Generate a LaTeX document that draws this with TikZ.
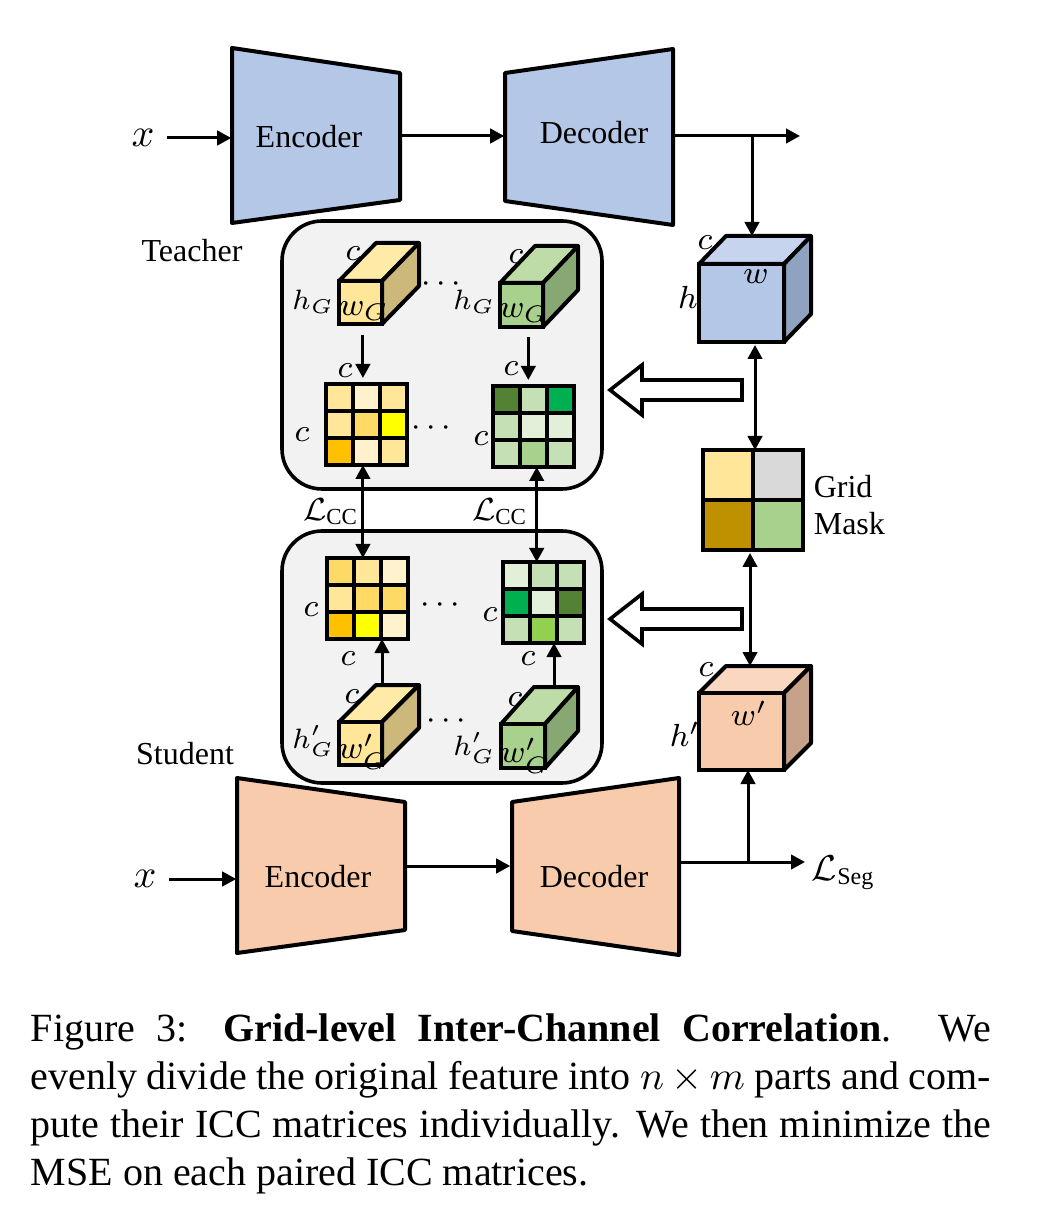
\documentclass[tikz,border=0pt]{standalone}
\usepackage{amsmath}
\usepackage{fontspec}
\setmainfont{Liberation Serif}
\usetikzlibrary{arrows.meta,positioning}

\definecolor{tblue}{HTML}{B4C7E7}
\definecolor{sorange}{HTML}{F8CBAD}
\definecolor{boxgray}{HTML}{F2F2F2}
\definecolor{bluefront}{HTML}{B4C7E7}
\definecolor{bluetop}{HTML}{C6D4EE}
\definecolor{blueside}{HTML}{8FA2BF}
\definecolor{orangefront}{HTML}{F8CBAD}
\definecolor{orangetop}{HTML}{F9D7C0}
\definecolor{orangeside}{HTML}{C6A28A}
\definecolor{yelfront}{HTML}{FFE699}
\definecolor{yeltop}{HTML}{FFEAA8}
\definecolor{yelside}{HTML}{CCB87A}
\definecolor{grnfront}{HTML}{A9D18E}
\definecolor{grntop}{HTML}{BDDCA8}
\definecolor{grnside}{HTML}{87A872}
\definecolor{y1}{HTML}{FFF2CC}
\definecolor{y2}{HTML}{FFE699}
\definecolor{y3}{HTML}{FFD966}
\definecolor{y4}{HTML}{FFC000}
\definecolor{y5}{HTML}{FFFF00}
\definecolor{g1}{HTML}{E2F0D9}
\definecolor{g2}{HTML}{C5E0B4}
\definecolor{g3}{HTML}{A9D18E}
\definecolor{g4}{HTML}{92D050}
\definecolor{g5}{HTML}{00B050}
\definecolor{g6}{HTML}{548235}
\definecolor{mgold}{HTML}{BF9000}
\definecolor{mgray}{HTML}{D9D9D9}

\tikzset{
  net/.style={draw, line width=1pt, line join=round},
  cubefront/.style={draw, line width=1pt, inner sep=0pt, outer sep=0pt},
  netbox/.style={inner sep=0pt, minimum width=42pt},
  kdbox/.style={draw, line width=0.9pt, fill=boxgray, rounded corners=10pt, inner sep=0pt},
  arr/.style={-{Triangle[length=3.5pt,width=3.6pt]}, line width=0.75pt},
  darr/.style={{Triangle[length=3.5pt,width=3.6pt]}-{Triangle[length=3.5pt,width=3.6pt]}, line width=0.75pt},
  hollow/.style={draw, line width=0.9pt, fill=white, line join=miter},
  lab/.style={font=\fontsize{8.2}{9}\selectfont, inner sep=0pt},
  hlab/.style={font=\fontsize{7.4}{8}\selectfont, inner sep=0pt, anchor=east},
  txt/.style={font=\fontsize{8}{9.3}\selectfont, inner sep=0pt},
}

% cube: name, x, y (front top-left), w, h, depth x, depth y, colour
\newcommand{\featcube}[8]{%
  \filldraw[net, fill=#8top] (#2,#3) -- ++(#6,-#7) -- ++(#4,0) -- ++(-#6,#7) -- cycle;
  \filldraw[net, fill=#8side] ({#2+#4},#3) -- ++(#6,-#7) -- ++(0,#5) -- ++(-#6,#7) -- cycle;
  \node[cubefront, fill=#8front, minimum width={#4*0.25pt}, minimum height={#5*0.25pt}] (#1) at ({#2+#4/2},{#3+#5/2}) {};
  \coordinate (#1-back) at ({#2+#6+#4/2},{#3-#7});
}

% 3x3 ICC matrix: name, x, y (top-left), cell colours
\newcommand{\iccmat}[4]{%
  \foreach \cl [count=\i from 0] in {#4} {
    \pgfmathtruncatemacro\rr{\i/3}
    \pgfmathtruncatemacro\cc{mod(\i,3)}
    \fill[fill=\cl] ({#2+\cc*27},{#3+\rr*27}) rectangle ++(27,27);
  }
  \foreach \k in {1,2} {
    \draw[line width=1pt] ({#2+\k*27},#3) -- ++(0,81);
    \draw[line width=1pt] (#2,{#3+\k*27}) -- ++(81,0);
  }
  \node[cubefront, minimum size=20.25pt] (#1) at ({#2+40.5},{#3+40.5}) {};
}

\begin{document}
\begin{tikzpicture}[x=0.25pt, y=-0.25pt]
  \path[use as bounding box, fill=white] (0,0) rectangle (1062,1206);

  % teacher network
  \filldraw[net, fill=tblue] (232,48) -- (400,73) -- (400,200) -- (232,223) -- cycle;
  \node[netbox] (tenc) at (316,136) {};
  \node[txt] (tenct) at (309,137) {Encoder};
  \filldraw[net, fill=tblue] (505,73) -- (673,49) -- (673,225) -- (505,201) -- cycle;
  \node[netbox] (tdec) at (589,136) {};
  \node[txt] (tdect) at (594,133) {Decoder};
  \node[lab, font=\fontsize{10}{11}\selectfont] (tx) at (143,138) {$x$};
  \coordinate (tout) at (800,136);
  \coordinate (tbr) at (752,136);
  \draw[arr] ([xshift=3pt]tx.east) -- (tx.east -| tenc.west);
  \draw[arr] (tenc.east) -- (tdec.west);
  \draw[arr] (tdec.east) -- (tout);
  \node[txt] (tlab) at (192,251) {Teacher};

  % teacher grids
  \node[kdbox, minimum width=80pt, minimum height=67pt] (tbox) at (442,355) {};
  \featcube{tcy}{339}{281}{43}{43}{37}{38}{yel}
  \featcube{tcg}{500}{283}{43}{44}{35}{37}{grn}
  \node[lab] (tcyc) at (353,254) {$c$};
  \node[hlab] (tcyh) at (335,302) {$h_G$};
  \node[lab] (tcyw) at (364,311) {$w_G$};
  \node[lab] (tcgc) at (516,257) {$c$};
  \node[hlab] (tcgh) at (496,302) {$h_G$};
  \node[lab] (tcgw) at (524,313) {$w_G$};
  \node[lab] (tdots1) at (444,284) {$\cdots$};
  \iccmat{tmy}{326}{384}{y2,y1,y2,y2,y3,y5,y4,y1,y2}
  \iccmat{tmg}{493}{386}{g6,g2,g5,g2,g1,g1,g2,g3,g2}
  \node[lab] (tmyc1) at (345,371) {$c$};
  \node[lab] (tmyc2) at (302,435) {$c$};
  \node[lab] (tmgc1) at (511,369) {$c$};
  \node[lab] (tmgc2) at (481,439) {$c$};
  \node[lab] (tdots2) at (434,428) {$\cdots$};
  \coordinate (tya) at ([xshift=0.6pt, yshift=-2.75pt]tcy.south);
  \coordinate (tga) at ([xshift=1.7pt, yshift=-2.5pt]tcg.south);
  \draw[arr, shorten >=1.5pt] (tya) -- (tya |- tmy.north);
  \draw[arr, shorten >=1.5pt] (tga) -- (tga |- tmg.north);

  % student grids
  \node[kdbox, minimum width=80pt, minimum height=63pt] (sbox) at (442,657) {};
  \iccmat{smy}{327}{558}{y3,y2,y1,y2,y3,y3,y4,y5,y1}
  \iccmat{smg}{503}{562}{g1,g2,g2,g5,g1,g6,g2,g4,g2}
  \node[lab] (smyc1) at (311,610) {$c$};
  \node[lab] (smyc2) at (348,659) {$c$};
  \node[lab] (smgc1) at (490,615) {$c$};
  \node[lab] (smgc2) at (528,659) {$c$};
  \node[lab] (sdots1) at (443,605) {$\cdots$};
  \featcube{scy}{339}{722}{43}{43}{37}{37}{yel}
  \featcube{scg}{501}{724}{44}{44}{33}{37}{grn}
  \node[lab] (scyc) at (352,697) {$c$};
  \node[hlab] (scyh) at (335,741) {$h'_G$};
  \node[lab] (scyw) at (363,752) {$w'_G$};
  \node[lab] (scgc) at (515,700) {$c$};
  \node[hlab] (scgh) at (496,748) {$h'_G$};
  \node[lab] (scgw) at (525,756) {$w'_G$};
  \node[lab] (sdots2) at (449,721) {$\cdots$};
  \coordinate (sya) at ([yshift=9.5pt]scy.north east);
  \coordinate (sga) at ([xshift=2.25pt, yshift=9.5pt]scg.north east);
  \draw[arr] (sya) -- (sya |- smy.south);
  \draw[arr] (sga) -- (sga |- smg.south);
  \node[txt] (slab) at (185,754) {Student};

  % inter-channel correlation
  \coordinate (lya) at ([xshift=-0.9pt]tmy.south);
  \coordinate (lga) at ([xshift=0.8pt]tmg.south);
  \draw[darr] (lya) -- (lya |- smy.north);
  \draw[darr] (lga) -- (lga |- smg.north);
  \node[lab] (lcc1) at (331,512) {$\mathcal{L}_{\mathrm{CC}}$};
  \node[lab] (lcc2) at (500,512) {$\mathcal{L}_{\mathrm{CC}}$};

  % feature maps and grid mask
  \featcube{tcb}{699}{264}{85}{78}{27}{28}{blue}
  \featcube{scb}{699}{693}{85}{77}{27}{27}{orange}
  \node[lab] (tcbc) at (705,243) {$c$};
  \node[lab] (tcbh) at (688,297) {$h$};
  \node[lab] (tcbw) at (756,277) {$w$};
  \node[lab] (scbc) at (706,670) {$c$};
  \node[lab] (scbh) at (685,734) {$h'$};
  \node[lab] (scbw) at (749,713) {$w'$};
  \draw[arr] (tbr) -- (tbr |- tcb-back);
  \foreach \cl/\cx/\cy in {y2/0/0, mgray/1/0, mgold/0/1, g3/1/1}
    \fill[fill=\cl] ({703+\cx*50},{450+\cy*50}) rectangle ++(50,50);
  \draw[line width=1pt] (753,450) -- (753,550) (703,500) -- (803,500);
  \node[cubefront, minimum size=25pt] (gm) at (753,500) {};
  \node[txt, anchor=west, align=left] (gmlab) at (813,505) {Grid\\Mask};
  \coordinate (m1) at ([xshift=0.5pt]gm.north);
  \coordinate (m2) at ([xshift=-0.75pt]gm.south);
  \draw[darr, shorten <=0.75pt] (m1 |- tcb.south) -- (m1);
  \draw[darr, shorten <=0.75pt] (m2) -- (m2 |- scb-back);
  \foreach \hy in {390,619}
    \draw[hollow] (742,{\hy-10}) -- (642,{\hy-10}) -- (642,{\hy-25}) -- (610,\hy)
      -- (642,{\hy+25}) -- (642,{\hy+10}) -- (742,{\hy+10}) -- cycle;

  % student network
  \filldraw[net, fill=sorange] (237,778) -- (405,802) -- (405,930) -- (237,953) -- cycle;
  \node[netbox] (senc) at (321,877) {};
  \node[txt] (senct) at (318,877) {Encoder};
  \filldraw[net, fill=sorange] (512,802) -- (679,778) -- (679,955) -- (512,931) -- cycle;
  \node[netbox] (sdec) at (595,877) {};
  \node[txt] (sdect) at (594,877) {Decoder};
  \node[lab, font=\fontsize{10}{11}\selectfont] (sx) at (145,879) {$x$};
  \coordinate (sout) at (805,862);
  \coordinate (sbr) at (748,862);
  \draw[arr] ([xshift=3pt]sx.east) -- (sx.east -| senc.west);
  \draw[arr] ([yshift=2.75pt]senc.east) -- ([yshift=2.75pt]senc.east -| sdec.west);
  \draw[arr] (sdec.east |- sout) -- (sout);
  \draw[arr] (sbr) -- (sbr |- scb.south);
  \node[lab, anchor=west, font=\fontsize{9}{10}\selectfont] (lseg) at (811,873) {$\mathcal{L}_{\mathrm{Seg}}$};

  % caption
  \node[anchor=north west, text width=240pt, align=justify, inner sep=0pt,
    font=\fontsize{10}{12}\selectfont] (cap) at (30,1013)
    {Figure 3: \textbf{Grid-level Inter-Channel Correlation}. We\linebreak
     evenly divide the original feature into $n\times m$ parts and com-\linebreak
     pute their ICC matrices individually. We then minimize the\linebreak
     MSE on each paired ICC matrices.};
\end{tikzpicture}
\end{document}
